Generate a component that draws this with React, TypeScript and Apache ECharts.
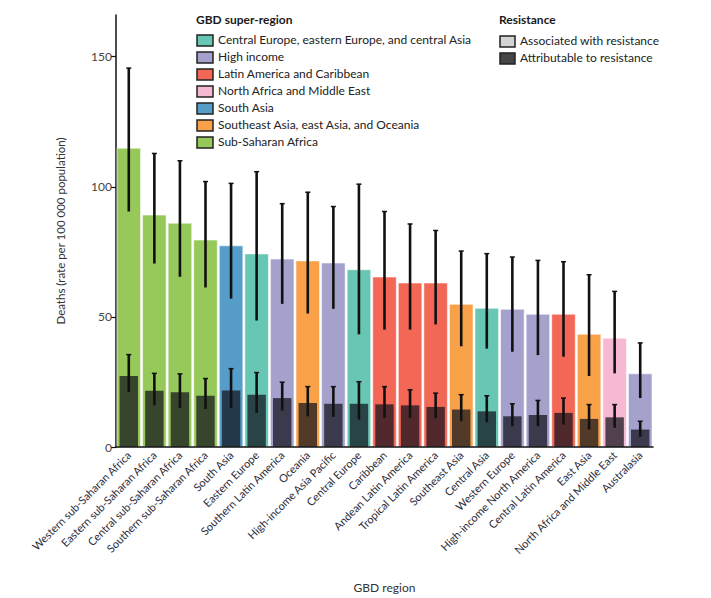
import React, { useEffect, useRef } from "react";
import * as echarts from "echarts";

const categories = [
  "Western sub-Saharan Africa", "Eastern sub-Saharan Africa", "Central sub-Saharan Africa",
  "Southern sub-Saharan Africa", "South Asia", "Eastern Europe", "Southern Latin America",
  "Oceania", "High-income Asia Pacific", "Central Europe", "Caribbean", "Andean Latin America",
  "Tropical Latin America", "Southeast Asia", "Central Asia", "Western Europe",
  "High-income North America", "Central Latin America", "East Asia",
  "North Africa and Middle East", "Australasia",
];
const superRegionOf = [
  "ssa", "ssa", "ssa", "ssa", "sa", "ceeca", "hi", "seao", "hi", "ceeca", "lac", "lac",
  "lac", "seao", "ceeca", "hi", "hi", "lac", "seao", "name", "hi",
];
const associated = [115, 89.3, 86.2, 79.7, 77.5, 74.4, 72.4, 71.7, 70.9, 68.3, 65.5, 63.2, 63.2, 55, 53.5, 53.1, 51.2, 51.2, 43.5, 42, 28.3];
const associatedLow = [90.5, 70.5, 65.4, 61.3, 57, 48.6, 55, 51.3, 53.1, 43.3, 45.1, 45.1, 47.1, 38.7, 37.8, 36.6, 35.3, 34.7, 27.3, 28.3, 18.8];
const associatedHigh = [145.6, 112.8, 110, 102, 101.3, 105.8, 93.5, 97.9, 92.4, 101, 90.5, 85.7, 83.2, 75.3, 74.3, 73, 71.7, 71.2, 66.2, 59.8, 40];
const attributable = [27.3, 21.6, 21, 19.7, 21.7, 20.1, 18.8, 16.9, 16.6, 16.6, 16.4, 16, 15.4, 14.4, 13.7, 11.8, 12.3, 13.1, 10.8, 11.4, 6.7];
const attributableLow = [21.1, 16, 15, 14.6, 15, 13.1, 14, 11.8, 11.6, 10.5, 11.2, 11.2, 11.2, 9.9, 9.5, 8, 8, 8.6, 6.7, 7.4, 3.9];
const attributableHigh = [35.5, 28.3, 28.1, 26.3, 30.1, 28.6, 24.9, 23.2, 23.2, 25.1, 23.2, 22, 20.7, 20.1, 19.7, 16.6, 17.9, 18.8, 16.3, 16.3, 9.9];
const yTicks = [0, 50, 100, 150];

const superRegionKeys = ["ceeca", "hi", "lac", "name", "sa", "seao", "ssa"];
const superRegionNames = [
  "Central Europe, eastern Europe, and central Asia", "High income", "Latin America and Caribbean",
  "North Africa and Middle East", "South Asia", "Southeast Asia, east Asia, and Oceania", "Sub-Saharan Africa",
];
const superRegionColors: Record<string, string> = {
  ceeca: "#67c6b4", hi: "#a5a1cd", lac: "#f26756", name: "#f6b8d2",
  sa: "#569dc9", seao: "#f8a148", ssa: "#96c85a",
};
const resistanceNames = ["Associated with resistance", "Attributable to resistance"];
const resistanceColors = ["#d3d3d3", "#454548"];

const FONT = "Lato";

export default function App() {
  const ref = useRef<HTMLDivElement>(null);
  useEffect(() => {
    if (!ref.current) return;
    const chart = echarts.init(ref.current, undefined, { renderer: "svg" });

    const errRender = (params: any, api: any) => {
      const x = api.value(0);
      const lo = api.coord([x, api.value(1)]);
      const hi = api.coord([x, api.value(2)]);
      return {
        type: "group",
        children: [
          { type: "line", shape: { x1: lo[0], y1: lo[1], x2: hi[0], y2: hi[1] }, style: { stroke: "#111", lineWidth: 2.6 } },
          { type: "line", shape: { x1: hi[0] - 2.5, y1: hi[1], x2: hi[0] + 2.5, y2: hi[1] }, style: { stroke: "#111", lineWidth: 1.5 } },
        ],
      };
    };

    const graphics: any[] = [];
    graphics.push({ type: "text", left: 196, top: 13, style: { text: "GBD super-region", font: `bold 12px ${FONT}`, fill: "#1a1a1a" } });
    superRegionNames.forEach((n, i) => {
      const y = 35 + i * 17;
      graphics.push({ type: "rect", shape: { x: 197, y: y, width: 16, height: 11 }, style: { fill: superRegionColors[superRegionKeys[i]], stroke: "#222", lineWidth: 1.5 } });
      graphics.push({ type: "text", x: 218, y: y - 1.5, style: { text: n, font: `12px ${FONT}`, fill: "#222" } });
    });
    graphics.push({ type: "text", left: 499, top: 13, style: { text: "Resistance", font: `bold 12px ${FONT}`, fill: "#1a1a1a" } });
    resistanceNames.forEach((n, i) => {
      const y = 36 + i * 17;
      graphics.push({ type: "rect", shape: { x: 500, y: y, width: 15, height: 11 }, style: { fill: resistanceColors[i], stroke: "#222", lineWidth: 1.5 } });
      graphics.push({ type: "text", x: 520, y: y - 1.5, style: { text: n, font: `12px ${FONT}`, fill: "#222" } });
    });

    chart.setOption({
      animation: false,
      textStyle: { fontFamily: FONT },
      grid: { left: 116, right: 58, top: 15, bottom: 147 },
      xAxis: [
        {
          type: "category",
          data: categories,
          name: "GBD region",
          nameLocation: "middle",
          nameGap: 134,
          nameTextStyle: { fontSize: 12, color: "#333", fontFamily: FONT },
          axisLine: { lineStyle: { color: "#111", width: 1.5 } },
          axisTick: { length: 5, lineStyle: { color: "#111", width: 1.2 } },
          axisLabel: { rotate: 45, fontSize: 11, color: "#2b2b3a", margin: 6, interval: 0, fontFamily: FONT },
          z: 10,
        },
        { type: "category", data: categories, show: false },
      ],
      yAxis: {
        type: "value",
        min: 0,
        max: 166,
        interval: 50,
        name: "Deaths (rate per 100 000 population)",
        nameLocation: "middle",
        nameGap: 50,
        nameTextStyle: { fontSize: 11.5, color: "#333", fontFamily: FONT },
        axisLine: { show: true, lineStyle: { color: "#111", width: 1.5 } },
        axisTick: { show: true, length: 5, customValues: yTicks, lineStyle: { color: "#111", width: 1.2 } },
        axisLabel: { customValues: yTicks, fontSize: 12, color: "#444", margin: 4, fontFamily: FONT },
        splitLine: { show: false },
      },
      series: [
        {
          type: "bar",
          xAxisIndex: 0,
          barWidth: "96%",
          data: associated.map((v, i) => ({
            value: v,
            itemStyle: { color: superRegionColors[superRegionOf[i]], borderColor: "rgba(255,255,255,0.55)", borderWidth: 1 },
          })),
        },
        {
          type: "bar",
          xAxisIndex: 1,
          barWidth: "72%",
          data: attributable.map((v) => ({ value: v, itemStyle: { color: "rgba(18,18,28,0.72)" } })),
        },
        {
          type: "custom",
          xAxisIndex: 0,
          renderItem: errRender,
          encode: { x: 0, y: [1, 2] },
          data: categories.map((_, i) => [i, associatedLow[i], associatedHigh[i]]),
          z: 5,
        },
        {
          type: "custom",
          xAxisIndex: 0,
          renderItem: errRender,
          encode: { x: 0, y: [1, 2] },
          data: categories.map((_, i) => [i, attributableLow[i], attributableHigh[i]]),
          z: 5,
        },
      ],
      graphic: graphics,
    });
    return () => chart.dispose();
  }, []);
  return <div ref={ref} style={{ position: "fixed", left: 0, top: 0, width: 711, height: 598, background: "#fff" }} />;
}
